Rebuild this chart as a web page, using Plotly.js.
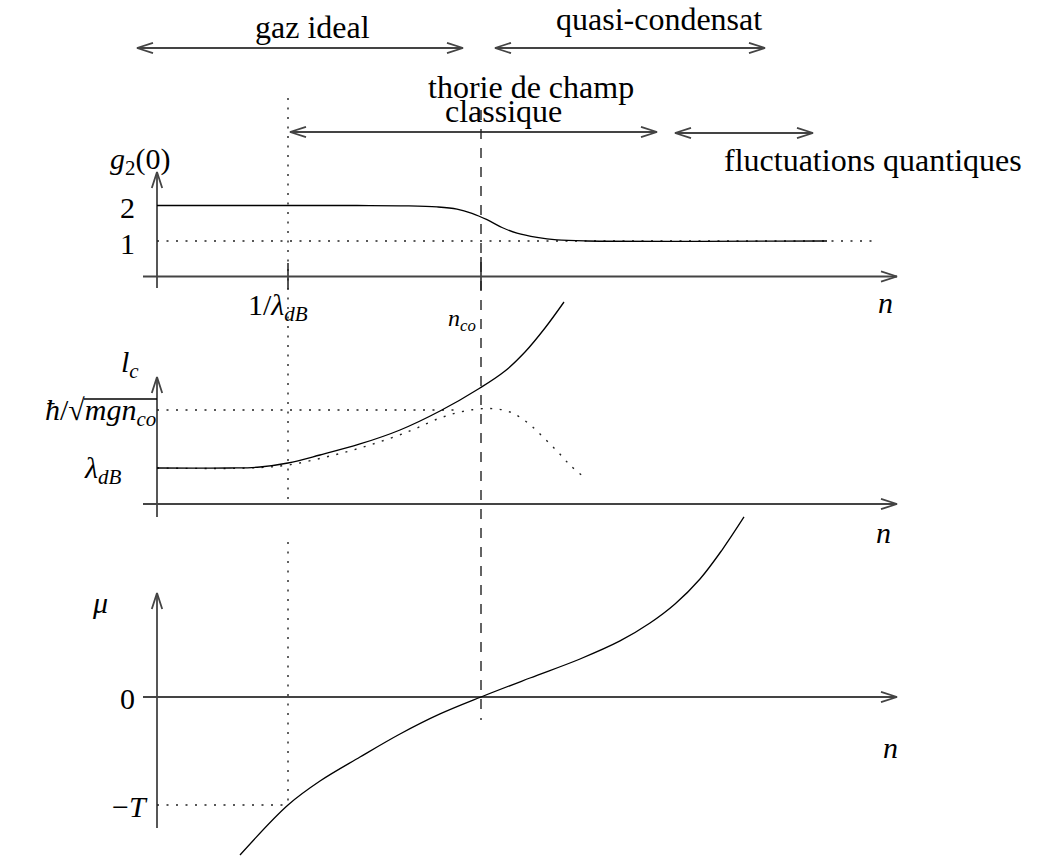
<!DOCTYPE html>
<html><head><meta charset="utf-8">
<script src="https://cdn.plot.ly/plotly-3.0.1.min.js"></script>
<style>html,body{margin:0;padding:0;background:#fff}</style>
</head><body><div id="chart" style="width:1042px;height:859px"></div>
<script>
// ---------------- data (arbitrary units) ----------------
// density axis n
const nInvLambda = 1.31;   // 1/lambda_dB
const nCo = 3.24;          // n_co
const nAxisEnd = 7.40;

// panel 1 : g2(0) versus n
const g2_n   = [0, 2.0, 2.5, 2.8, 3.0, 3.15, 3.3, 3.45, 3.6, 3.8, 4.0, 4.3, 6.7];
const g2_val = [2, 2, 1.99, 1.96, 1.90, 1.78, 1.60, 1.38, 1.22, 1.10, 1.03, 1.0, 1.0];
const g2Levels = [2, 1];
const g2LevelLabels = ['2', '1'];

// panel 2 : coherence length l_c versus n
const lc_n   = [0, 0.73, 1.03, 1.31, 1.63, 2.03, 2.43, 2.83, 3.23, 3.48, 3.68, 3.88, 4.07];
const lc_val = [1.0, 1.0, 1.028, 1.139, 1.361, 1.667, 2.056, 2.583, 3.222, 3.694, 4.222, 4.889, 5.611];
const lcAsym_n   = [0, 0.93, 1.31, 1.73, 2.13, 2.53, 2.83, 3.08, 3.33, 3.53, 3.71, 3.86, 4.0, 4.13, 4.28];
const lcAsym_val = [1.0, 1.0, 1.083, 1.333, 1.639, 2.03, 2.389, 2.583, 2.653, 2.556, 2.25, 1.861, 1.472, 1.083, 0.722];
const lcLevels = [1.0, 2.61];
const lcLevelLabels = ['<i>λ</i><sub><i>dB</i></sub>', '<i>ħ</i>/√<i>mgn</i><sub><i>co</i></sub>'];

// panel 3 : chemical potential mu versus n
const mu_n   = [0.83, 1.31, 1.63, 2.03, 2.43, 2.83, 3.24, 3.73, 4.23, 4.63, 4.93, 5.18, 5.43, 5.65, 5.87];
const mu_val = [-1.463, -1.0, -0.778, -0.556, -0.343, -0.157, 0, 0.176, 0.352, 0.519, 0.685, 0.861, 1.093, 1.361, 1.667];
const muLevels = [0, -1];
const muLevelLabels = ['0', '−<i>T</i>'];

// regimes (ranges in n)
const regimeLabels = ['gaz ideal', 'quasi-condensat', 'thorie de champ', 'fluctuations quantiques'];
const regimeStart  = [-0.20, 3.38, 1.33, 5.18];
const regimeEnd    = [3.06, 6.08, 5.00, 6.56];

// ---------------- geometry helpers ----------------
const W = 1042, H = 859;
const X0 = 157, XK = 100;                       // pixel = X0 + XK * n
const yMap = {y: {z: 276.5, k: 35.5}, y2: {z: 504, k: 36}, y3: {z: 697, k: 108}, y4: {z: 0, k: -1}};
const nx = p => (p - X0) / XK;
const pxN = n => X0 + XK * n;
const vy = (ax, p) => (yMap[ax].z - p) / yMap[ax].k;
const pyV = (ax, v) => yMap[ax].z - yMap[ax].k * v;
const yRange = ax => [(yMap[ax].z - H) / yMap[ax].k, yMap[ax].z / yMap[ax].k];

const traces = [];
function line(xs, ys, ax, opt) {
  traces.push({type: 'scatter', mode: 'lines', x: xs, y: ys, xaxis: 'x', yaxis: ax,
    line: Object.assign({color: '#000', width: 1.3}, opt || {}), hoverinfo: 'skip', showlegend: false, cliponaxis: false});
}
function chevron(n0, v0, n1, v1, ax, opt) {
  const x0 = pxN(n0), y0 = pyV(ax, v0), x1 = pxN(n1), y1 = pyV(ax, v1);
  const L = Math.hypot(x1 - x0, y1 - y0), dx = (x1 - x0) / L, dy = (y1 - y0) / L;
  const len = 16, half = 5.2;
  const a = [x1 - len * dx - half * dy, y1 - len * dy + half * dx];
  const b = [x1 - len * dx + half * dy, y1 - len * dy - half * dx];
  line([nx(a[0]), n1, nx(b[0])], [vy(ax, a[1]), v1, vy(ax, b[1])], ax, opt);
}
function arrow(n0, v0, n1, v1, ax, both, opt) {
  line([n0, n1], [v0, v1], ax, opt);
  chevron(n0, v0, n1, v1, ax, opt);
  if (both) chevron(n1, v1, n0, v0, ax, opt);
}

const axisStyle = {color: '#444', width: 1.8};
const dotted = {color: '#222', width: 1.4, dash: '2px,7.5px'};
const dashed = {color: '#222', width: 1.4, dash: '10px,9px'};
const smooth = {shape: 'spline', smoothing: 1};

// ---------------- regime arrows ----------------
const regimeRowPx = [48, 48, 132, 133];
regimeLabels.forEach((lab, i) => {
  const v = vy('y4', regimeRowPx[i]);
  arrow(regimeStart[i], v, regimeEnd[i], v, 'y4', true, axisStyle);
});

// ---------------- guide lines ----------------
line([nCo, nCo], [110, 720], 'y4', dashed);
line([nInvLambda, nInvLambda], [98, pyV('y2', 0)], 'y4', dotted);
line([nInvLambda, nInvLambda], [542, pyV('y3', muLevels[1])], 'y4', dotted);

// ---------------- panel 1 ----------------
arrow(nx(143), 0, nAxisEnd, 0, 'y', false, axisStyle);
arrow(0, vy('y', 288), 0, vy('y', 172), 'y', false, axisStyle);
line([nInvLambda, nInvLambda], [vy('y', 263), vy('y', 289)], 'y', axisStyle);
line([nCo, nCo], [vy('y', 257), vy('y', 290)], 'y', axisStyle);
line([0, 7.16], [g2Levels[1], g2Levels[1]], 'y', dotted);
line(g2_n, g2_val, 'y', smooth);

// ---------------- panel 2 ----------------
arrow(nx(143), 0, nAxisEnd, 0, 'y2', false, axisStyle);
arrow(0, vy('y2', 517), 0, vy('y2', 377), 'y2', false, axisStyle);
line([0, 2.98], [lcLevels[1], lcLevels[1]], 'y2', dotted);
line(lcAsym_n, lcAsym_val, 'y2', Object.assign({}, smooth, dotted));
line(lc_n, lc_val, 'y2', smooth);

// ---------------- panel 3 ----------------
arrow(nx(143), 0, nAxisEnd, 0, 'y3', false, axisStyle);
arrow(0, vy('y3', 828), 0, vy('y3', 593), 'y3', false, axisStyle);
line([0, nInvLambda], [muLevels[1], muLevels[1]], 'y3', dotted);
line(mu_n, mu_val, 'y3', smooth);

// ---------------- text ----------------
const serif = 'Liberation Serif';
const annotations = [];
function txt(text, pxX, pxY, size, xanchor) {
  annotations.push({text: text, x: nx(pxX), y: pxY, xref: 'x', yref: 'y4', showarrow: false,
    xanchor: xanchor || 'center', yanchor: 'middle', font: {family: serif, size: size || 32, color: '#000'}});
}
txt(regimeLabels[0], 312, 27);
txt(regimeLabels[1], 659, 19);
txt(regimeLabels[2], 531, 87);
txt('classique', 503, 111);
txt(regimeLabels[3], 873, 160);

txt('<i>g</i><sub>2</sub>(0)', 140, 161, 30);
g2Levels.forEach((v, i) => txt(g2LevelLabels[i], 127, pyV('y', v) + 2, 30));
txt('1/<i>λ</i><sub><i>dB</i></sub>', pxN(nInvLambda) - 10, 307, 30);
txt('<i>n</i><sub><i>co</i></sub>', pxN(nCo) - 19, 320, 24);
txt('<i>n</i>', 885, 302, 30);

txt('<i>l</i><sub><i>c</i></sub>', 130, 364, 30);
txt(lcLevelLabels[0], 103, pyV('y2', lcLevels[0]) + 2, 30);
txt(lcLevelLabels[1], 158, pyV('y2', lcLevels[1]) + 2, 30, 'right');
txt('<i>n</i>', 883, 532, 30);

txt('<i>μ</i>', 100, 602, 30);
muLevels.forEach((v, i) => txt(muLevelLabels[i], 127 + (i ? 3 : 0), pyV('y3', v) + 1, 30));
txt('<i>n</i>', 890, 747, 30);

// sqrt vinculum over "mgn_co"
const shapes = [{type: 'line', xref: 'x', yref: 'y4', x0: nx(84), x1: nx(157), y0: 399, y1: 399,
  line: {color: '#000', width: 1.3}}];

const hidden = {visible: false, showgrid: false, zeroline: false, fixedrange: true};
const layout = {
  width: W, height: H, margin: {l: 0, r: 0, t: 0, b: 0},
  paper_bgcolor: '#fff', plot_bgcolor: '#fff', showlegend: false,
  font: {family: serif},
  xaxis: Object.assign({range: [nx(0), nx(W)], domain: [0, 1]}, hidden),
  yaxis: Object.assign({range: yRange('y'), domain: [0, 1]}, hidden),
  yaxis2: Object.assign({range: yRange('y2'), overlaying: 'y'}, hidden),
  yaxis3: Object.assign({range: yRange('y3'), overlaying: 'y'}, hidden),
  yaxis4: Object.assign({range: yRange('y4'), overlaying: 'y'}, hidden),
  annotations: annotations, shapes: shapes
};
Plotly.newPlot('chart', traces, layout, {staticPlot: true, displayModeBar: false});
</script></body></html>
